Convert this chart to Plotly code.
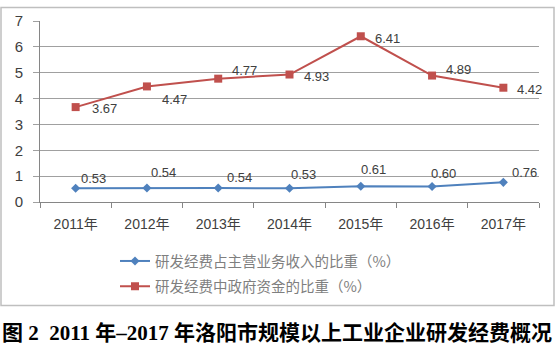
import plotly.graph_objects as go

years = ["2011年", "2012年", "2013年", "2014年", "2015年", "2016年", "2017年"]
share_revenue = [0.53, 0.54, 0.54, 0.53, 0.61, 0.60, 0.76]
share_gov = [3.67, 4.47, 4.77, 4.93, 6.41, 4.89, 4.42]
name_revenue = "研发经费占主营业务收入的比重（%）"
name_gov = "研发经费中政府资金的比重（%）"
caption = "图 2  2011 年–2017 年洛阳市规模以上工业企业研发经费概况"

BLUE = "#4F81BD"
RED = "#C0504D"
TXT = "#404040"

# label offsets (style)
blue_off = [(3, -10), (2, -16), (7, -11), (-1, -14), (-2, -17), (-3, -13), (7, -10)]
red_off = [(14, 1), (13, 13), (12, -8), (12, 2), (12, 2), (12, -6), (12, 2)]

L, R, T, B = 40, 17, 15, 150
W, H = 556, 352
pw, ph = W - L - R, H - T - B

def px2x(px):
    return (px - L) / pw

def py2y(py):
    return (H - B - py) / ph

fig = go.Figure()
fig.add_trace(go.Scatter(x=years, y=share_revenue, mode="lines+markers", name=name_revenue,
                         line=dict(color=BLUE, width=2), marker=dict(symbol="diamond", size=7, color=BLUE),
                         legend="legend"))
fig.add_trace(go.Scatter(x=years, y=share_gov, mode="lines+markers", name=name_gov,
                         line=dict(color=RED, width=2), marker=dict(symbol="square", size=8, color=RED),
                         legend="legend2"))

ann = []
for i, (xv, yv) in enumerate(zip(years, share_revenue)):
    dx, dy = blue_off[i]
    ann.append(dict(x=xv, y=yv, text=f"{yv:.2f}", showarrow=False, xanchor="left", yanchor="middle",
                    xshift=dx, yshift=-dy, font=dict(size=13, color=TXT, family="Liberation Sans, Arial")))
for i, (xv, yv) in enumerate(zip(years, share_gov)):
    dx, dy = red_off[i]
    ann.append(dict(x=xv, y=yv, text=f"{yv:.2f}", showarrow=False, xanchor="left", yanchor="middle",
                    xshift=dx, yshift=-dy, font=dict(size=13, color=TXT, family="Liberation Sans, Arial")))
ann.append(dict(xref="paper", yref="paper", x=px2x(277), y=py2y(337), text=caption, showarrow=False,
                xanchor="center", yanchor="middle",
                font=dict(size=21, color="#000000", family="Liberation Serif, Noto Sans CJK SC", weight="bold")))

fig.update_layout(
    width=W, height=H,
    margin=dict(l=L, r=R, t=T, b=B),
    paper_bgcolor="white", plot_bgcolor="white",
    annotations=ann,
    showlegend=True,
    legend=dict(x=px2x(115), y=py2y(263), xanchor="left", yanchor="middle", bgcolor="rgba(0,0,0,0)",
                font=dict(size=14.5, color="#7F7F7F", family="Noto Sans CJK SC"), itemwidth=30),
    legend2=dict(x=px2x(115), y=py2y(289), xanchor="left", yanchor="middle", bgcolor="rgba(0,0,0,0)",
                 font=dict(size=14.5, color="#7F7F7F", family="Noto Sans CJK SC"), itemwidth=30),
    shapes=[dict(type="rect", xref="paper", yref="paper", x0=px2x(1), x1=px2x(554), y0=py2y(309), y1=py2y(1),
                 line=dict(color="#BFBFBF", width=1.5), layer="below")],
)
fig.update_xaxes(
    range=[-0.5, 6.5], showgrid=False, showline=True, linecolor="#868686", linewidth=1,
    ticks="outside", ticklen=5, tickcolor="#868686", tickson="boundaries", ticklabelstandoff=9,
    tickfont=dict(size=14, color=TXT, family="Liberation Sans, Noto Sans CJK SC"),
)
fig.update_yaxes(
    range=[0, 7], dtick=1, showgrid=True, gridcolor="#A0A0A0", gridwidth=1,
    showline=True, linecolor="#868686", linewidth=1, ticks="outside", ticklen=6, tickcolor="#A0A0A0",
    ticklabelstandoff=7,
    tickfont=dict(size=15, color=TXT, family="Liberation Sans, Arial"), zeroline=False,
)
fig.write_html("out.html")
